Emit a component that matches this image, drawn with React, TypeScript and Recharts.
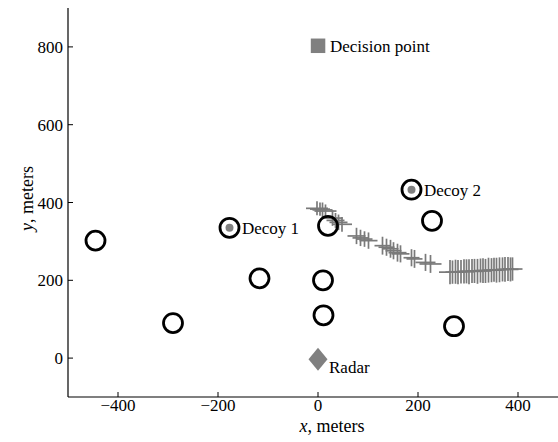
import { ScatterChart, Scatter, XAxis, YAxis, ErrorBar } from "recharts";

// open black rings (threat positions)
const ringX = [-445, -290, -117, 10, 11, 20, 228, 272];
const ringY = [302, 90, 205, 200, 110, 340, 353, 82];

// decoys
const decoyNames = ["Decoy 1", "Decoy 2"];
const decoyX = [-177, 187];
const decoyY = [335, 433];

// decision point + radar
const decisionX = [0];
const decisionY = [803];
const radarX = [0];
const radarY = [-3];

// track estimates with x / y uncertainty (drawn as plus marks)
const trackX = [
  -2, 4, 9, 15, 29, 35, 41, 48, 77, 85, 93, 101, 129, 137, 145, 151, 159, 165,
  187, 193, 215, 225, 264, 269, 275, 280, 286, 292, 297, 302, 308, 313, 319,
  325, 330, 335, 341, 347, 352, 357, 363, 369, 374, 380, 385, 389,
];
const trackY = [
  385, 383, 381, 378, 360, 354, 349, 344, 314, 309, 306, 302, 289, 285, 281,
  276, 271, 268, 258, 255, 246, 242, 221, 221, 222, 221, 222, 223, 223, 222,
  224, 224, 223, 225, 225, 224, 226, 226, 227, 226, 227, 228, 228, 229, 228, 229,
];
const trackErrX = [
  22, 20, 20, 22, 20, 18, 18, 20, 18, 16, 16, 18, 16, 16, 16, 16, 18, 18, 16,
  16, 20, 22, 22, 14, 14, 12, 12, 12, 12, 12, 12, 12, 12, 12, 12, 12, 12, 12,
  12, 12, 12, 12, 12, 12, 16, 20,
];
const trackErrY = [
  18, 17, 19, 17, 20, 19, 20, 19, 21, 21, 20, 21, 23, 22, 23, 22, 23, 22, 22,
  23, 22, 23, 31, 30, 31, 31, 30, 31, 31, 32, 31, 31, 32, 31, 32, 31, 32, 31,
  31, 32, 32, 31, 32, 31, 31, 30,
];

const xTicks = [-400, -200, 0, 200, 400];
const yTicks = [0, 200, 400, 600, 800];

const FONT = "Liberation Serif, DejaVu Serif, serif";
const GRAY = "#808080";

const ringData = ringX.map((x, i) => ({ x, y: ringY[i] }));
const decoyData = decoyX.map((x, i) => ({ x, y: decoyY[i], name: decoyNames[i] }));
const decisionData = decisionX.map((x, i) => ({ x, y: decisionY[i], name: "Decision point" }));
const radarData = radarX.map((x, i) => ({ x, y: radarY[i], name: "Radar" }));
const trackData = trackX.map((x, i) => ({
  x,
  y: trackY[i],
  ex: trackErrX[i],
  ey: trackErrY[i],
}));

const textStyle = { fontFamily: FONT, fontSize: 17 };

function Ring({ cx, cy }: any) {
  return <circle cx={cx} cy={cy} r={9.5} fill="none" stroke="#000" strokeWidth={2.8} />;
}

function Decoy({ cx, cy, payload }: any) {
  return (
    <g>
      <circle cx={cx} cy={cy} r={9.5} fill="none" stroke="#000" strokeWidth={2.8} />
      <circle cx={cx} cy={cy} r={4} fill={GRAY} />
      <text x={cx + 12.5} y={cy + 6} style={textStyle} fill="#000">
        {payload.name}
      </text>
    </g>
  );
}

function Decision({ cx, cy, payload }: any) {
  return (
    <g>
      <rect x={cx - 7.2} y={cy - 7.2} width={14.5} height={14.5} fill={GRAY} />
      <text x={cx + 12} y={cy + 6} style={textStyle} fill="#000">
        {payload.name}
      </text>
    </g>
  );
}

function Radar({ cx, cy, payload }: any) {
  const pts = `${cx},${cy - 11.5} ${cx + 9.5},${cy} ${cx},${cy + 11.5} ${cx - 9.5},${cy}`;
  return (
    <g>
      <polygon points={pts} fill={GRAY} />
      <text x={cx + 11} y={cy + 14} style={textStyle} fill="#000">
        {payload.name}
      </text>
    </g>
  );
}

function XLabel({ viewBox }: any) {
  return (
    <text
      x={viewBox.x + viewBox.width / 2 + 14}
      y={viewBox.y + 35}
      textAnchor="middle"
      style={{ fontFamily: FONT, fontSize: 18 }}
      fill="#000"
    >
      <tspan fontStyle="italic">x</tspan>, meters
    </text>
  );
}

function YLabel({ viewBox }: any) {
  const x = 33;
  const y = viewBox.y + viewBox.height / 2 - 4;
  return (
    <text
      x={x}
      y={y}
      transform={`rotate(-90, ${x}, ${y})`}
      textAnchor="middle"
      style={{ fontFamily: FONT, fontSize: 18 }}
      fill="#000"
    >
      <tspan fontStyle="italic">y</tspan>, meters
    </text>
  );
}

const tickStyle = { fill: "#000", fontSize: 17, style: { fontFamily: FONT } };
const axisLine = { stroke: "#000", strokeWidth: 1.2 };

export default function App() {
  return (
    <div
      style={{
        position: "absolute",
        left: 0,
        top: 0,
        width: 558,
        height: 442,
        overflow: "hidden",
        background: "#fff",
        fontFamily: FONT,
      }}
    >
      <ScatterChart
        width={578}
        height={442}
        margin={{ top: 8, right: 10, left: 8, bottom: 0 }}
        style={{ fontFamily: FONT }}
      >
        <XAxis
          type="number"
          dataKey="x"
          domain={[-500, 500]}
          allowDataOverflow
          ticks={xTicks}
          tickFormatter={(v: number) => (v < 0 ? `\u2212${Math.abs(v)}` : `${v}`)}
          height={45}
          tickSize={-5}
          tickMargin={7}
          tick={tickStyle}
          axisLine={axisLine}
          tickLine={{ stroke: "#000" }}
          label={(p: any) => <XLabel viewBox={p.viewBox} />}
        />
        <XAxis
          xAxisId="top"
          orientation="top"
          type="number"
          domain={[-500, 500]}
          allowDataOverflow
          ticks={xTicks}
          tickFormatter={() => ""}
          height={0}
          tickSize={-5}
          axisLine={axisLine}
          tickLine={{ stroke: "#000" }}
        />
        <YAxis
          type="number"
          dataKey="y"
          domain={[-100, 900]}
          allowDataOverflow
          ticks={yTicks}
          width={60}
          tickSize={-5}
          tickMargin={10}
          tick={tickStyle}
          axisLine={axisLine}
          tickLine={{ stroke: "#000" }}
          label={(p: any) => <YLabel viewBox={p.viewBox} />}
        />
        <Scatter data={trackData} shape={() => <g />} isAnimationActive={false}>
          <ErrorBar dataKey="ex" direction="x" width={0} stroke="#7a7a7a" strokeWidth={1.7} />
          <ErrorBar dataKey="ey" direction="y" width={0} stroke="#7a7a7a" strokeWidth={1.7} />
        </Scatter>
        <Scatter data={ringData} shape={Ring} isAnimationActive={false} />
        <Scatter data={decoyData} shape={Decoy} isAnimationActive={false} />
        <Scatter data={decisionData} shape={Decision} isAnimationActive={false} />
        <Scatter data={radarData} shape={Radar} isAnimationActive={false} />
      </ScatterChart>
    </div>
  );
}
